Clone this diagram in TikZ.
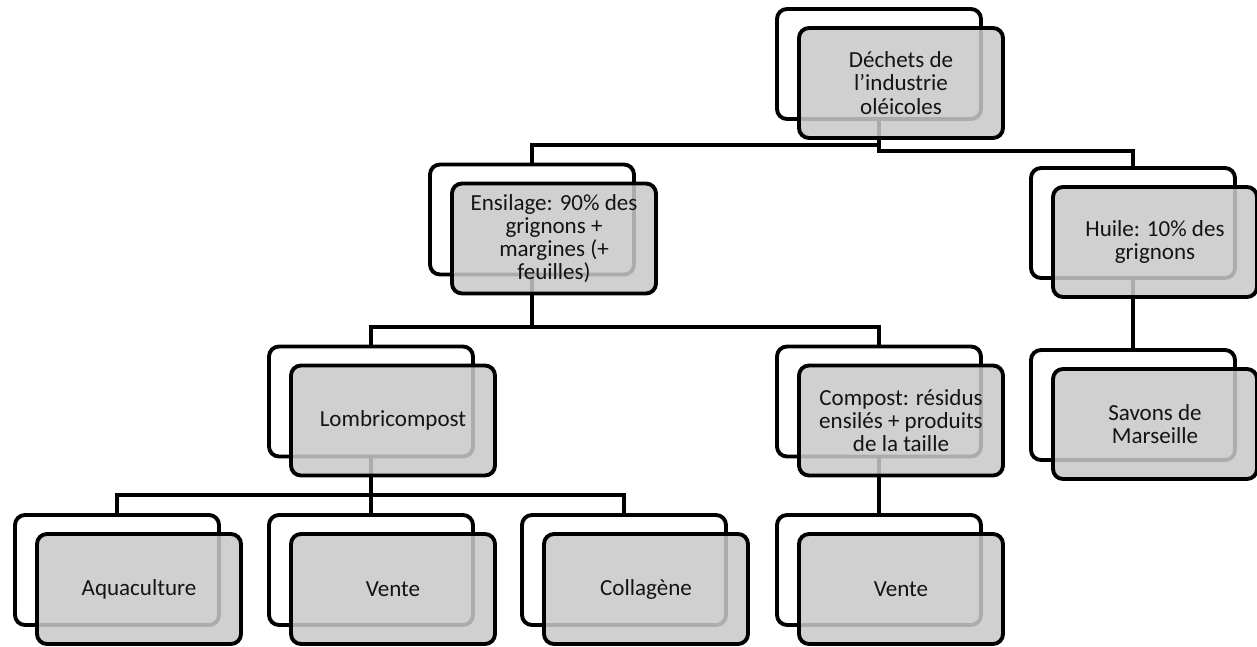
\documentclass[tikz,border=0pt]{standalone}
\usepackage{fontspec}
\setmainfont{Carlito}
\usepackage{tikz}
\definecolor{boxgrey}{RGB}{201,201,201}
\definecolor{textdark}{RGB}{20,20,20}
\tikzset{
  backbox/.style={draw, line width=2.2pt, rounded corners=0.2cm, fill=white,
    minimum width=4.08cm, minimum height=2.2cm, inner sep=0pt, outer sep=0pt},
  frontbox/.style={backbox, fill=boxgrey, fill opacity=0.86, text opacity=1,
    text=textdark, align=center, font=\fontsize{13.1}{13.2}\selectfont,
    xshift=0.44cm, yshift=-0.38cm},
  conn/.style={line width=2.2pt}
}

\begin{document}
\begin{tikzpicture}
    \fill[white] (0,0) rectangle (25.14,-12.92);
    \useasboundingbox (0,0) rectangle (25.14,-12.92);

    % back boxes
    \node[backbox] (dechets) at (17.58,-1.28) {};
    \node[backbox] (ensilage) at (10.64,-4.39) {};
    \node[backbox] (huile) at (22.66,-4.46) {};
    \node[backbox] (lombri) at (7.42,-8.03) {};
    \node[backbox] (compost) at (17.58,-8.03) {};
    \node[backbox] (savons) at (22.66,-8.10) {};
    \node[backbox] (aqua) at (2.34,-11.40) {};
    \node[backbox] (vente) at (7.42,-11.40) {};
    \node[backbox] (collagene) at (12.48,-11.40) {};
    \node[backbox] (venteb) at (17.58,-11.40) {};

    % connectors
    \draw[conn] (dechets.south) -- ++(0,-0.52) -| (ensilage.north);
    \draw[conn] (dechets.south) -- ++(0,-0.64) -| (huile.north);
    \draw[conn] (ensilage.south) -- ++(0,-1.05) -| (lombri.north);
    \draw[conn] (ensilage.south) -- ++(0,-1.05) -| (compost.north);
    \draw[conn] (lombri.south) -- ++(0,-0.77) -| (aqua.north);
    \draw[conn] (lombri.south) -- (vente.north);
    \draw[conn] (lombri.south) -- ++(0,-0.77) -| (collagene.north);
    \draw[conn] (compost.south) -- (venteb.north);
    \draw[conn] (huile.south) -- (savons.north);

    % front boxes with the texts
    \node[frontbox] (dechetsT) at (dechets) {Déchets de\\l’industrie\\oléicoles};
    \node[frontbox] (ensilageT) at (ensilage) {Ensilage: 90\% des\\grignons +\\margines (+\\feuilles)};
    \node[frontbox] (huileT) at (huile) {Huile: 10\% des\\grignons};
    \node[frontbox] (lombriT) at (lombri) {Lombricompost};
    \node[frontbox] (compostT) at (compost) {Compost: résidus\\ensilés + produits\\de la taille};
    \node[frontbox] (savonsT) at (savons) {Savons de\\Marseille};
    \node[frontbox] (aquaT) at (aqua) {Aquaculture};
    \node[frontbox] (venteT) at (vente) {Vente};
    \node[frontbox] (collageneT) at (collagene) {Collagène};
    \node[frontbox] (ventebT) at (venteb) {Vente};
\end{tikzpicture}
\end{document}
